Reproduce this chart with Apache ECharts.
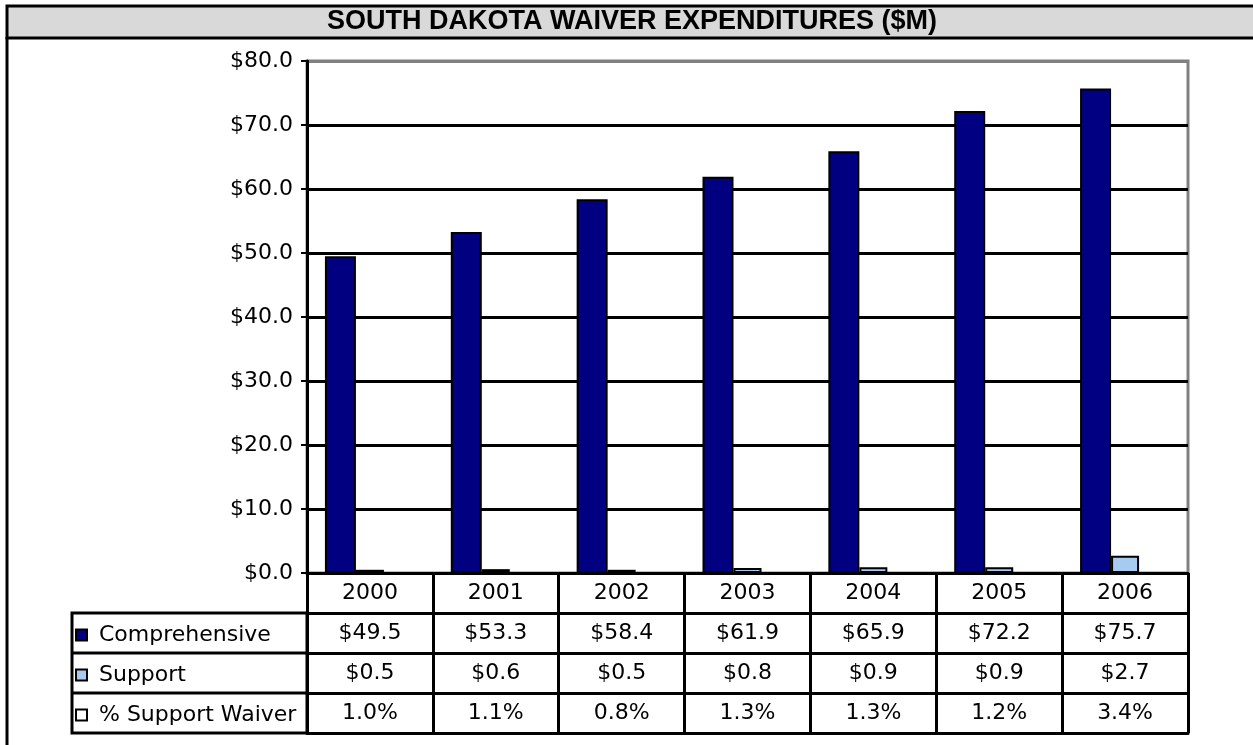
<!DOCTYPE html>
<html>
<head>
<meta charset="utf-8">
<title>South Dakota Waiver Expenditures</title>
<script src="https://cdn.jsdelivr.net/npm/echarts@6/dist/echarts.min.js"></script>
<style>
  html, body { margin: 0; padding: 0; background: #fff; }
  #chart { width: 1253px; height: 745px; }
</style>
</head>
<body>
<div id="chart"></div>
<script>
// Fiscal years and expenditures ($ millions)
const years = ['2000', '2001', '2002', '2003', '2004', '2005', '2006'];
const comprehensive = [49.5, 53.3, 58.4, 61.9, 65.9, 72.2, 75.7];
const support = [0.5, 0.6, 0.5, 0.8, 0.9, 0.9, 2.7];
// Support waiver share of total, in percent
const supportPct = [1.0, 1.1, 0.8, 1.3, 1.3, 1.2, 3.4];
const seriesNames = ['Comprehensive', 'Support', '% Support Waiver'];
const titleText = 'SOUTH DAKOTA WAIVER EXPENDITURES ($M)';

const FONT = 'DejaVu Sans';
const FONT_SIZE = 22;
const ROW = 40;            // height of one data-table row
const GRID = { left: 307, right: 65, top: 61, bottom: 172 };
const money = v => '$' + v.toFixed(1);
const pct = v => v.toFixed(1) + '%';

// A category axis below the plot that acts as one row of the data table:
// its line is the row's top rule, its ticks are the cell dividers.
function tableRow(labels, offset, showLabels) {
  return {
    type: 'category',
    data: labels,
    gridIndex: 0,
    position: 'bottom',
    offset: offset,
    axisLine: { show: true, lineStyle: { color: '#000', width: 3 } },
    axisTick: { show: showLabels, length: ROW, interval: 0, lineStyle: { color: '#000', width: 3 } },
    axisLabel: {
      show: showLabels, interval: 0, margin: 9,
      color: '#000', fontFamily: FONT, fontSize: FONT_SIZE
    },
    splitLine: { show: false }
  };
}

const legendBase = {
  orient: 'horizontal',
  left: 75,
  padding: 0,
  icon: 'rect',
  itemWidth: 11,
  itemHeight: 11,
  selectedMode: false,
  textStyle: { fontFamily: FONT, fontSize: FONT_SIZE, color: '#000', padding: [0, 0, 0, 7] }
};

const chart = echarts.init(document.getElementById('chart'), null, { renderer: 'canvas' });

const ySplitColors = ['#000', '#000', '#000', '#000', '#000', '#000', '#000', '#000', '#808080'];

chart.setOption({
  backgroundColor: '#fff',
  animation: false,
  grid: Object.assign({
    containLabel: false,
    outerBoundsMode: 'none',
    show: true,
    borderColor: '#808080',
    borderWidth: 3,
    backgroundColor: 'transparent'
  }, GRID),
  legend: [
    Object.assign({ data: [seriesNames[0]], top: 624 }, legendBase),
    Object.assign({ data: [seriesNames[1]], top: 664 }, legendBase),
    Object.assign({ data: [seriesNames[2]], top: 704 }, legendBase)
  ],
  xAxis: [
    tableRow(years, 0, true),
    tableRow(comprehensive.map(money), ROW, true),
    tableRow(support.map(money), ROW * 2, true),
    tableRow(supportPct.map(pct), ROW * 3, true),
    tableRow(years.map(() => ''), ROW * 4, false)
  ],
  yAxis: {
    type: 'value',
    min: 0,
    max: 80,
    interval: 10,
    axisLine: { show: true, lineStyle: { color: '#000', width: 3 } },
    axisTick: { show: true, length: 6, lineStyle: { color: '#000', width: 2 } },
    axisLabel: {
      margin: 14, color: '#000', fontFamily: FONT, fontSize: FONT_SIZE,
      formatter: v => money(v)
    },
    splitLine: { show: true, lineStyle: { color: ySplitColors, width: 3 } }
  },
  series: [
    {
      name: seriesNames[0], type: 'bar', xAxisIndex: 0,
      data: comprehensive, barWidth: 31, barGap: '0%',
      itemStyle: { color: '#000080', borderColor: '#000', borderWidth: 2 }
    },
    {
      name: seriesNames[1], type: 'bar', xAxisIndex: 0,
      data: support, barWidth: 28, barGap: '0%',
      itemStyle: { color: '#a6caf0', borderColor: '#000', borderWidth: 2 }
    },
    {
      name: seriesNames[2], type: 'bar', xAxisIndex: 0,
      data: supportPct.map(v => v / 100), barWidth: 31, barGap: '0%',
      itemStyle: { color: '#fff', borderColor: '#000', borderWidth: 2 }
    }
  ],
  graphic: [
    // title band
    {
      type: 'rect', z: 10,
      shape: { x: 7, y: 6, width: 1260, height: 32 },
      style: { fill: '#d9d9d9', stroke: '#000', lineWidth: 3 }
    },
    {
      type: 'text', z: 11, x: 632, y: 22,
      style: {
        text: titleText, fill: '#000', align: 'center', verticalAlign: 'middle',
        font: 'bold 27px "Liberation Sans", Arial, sans-serif'
      }
    },
    // left frame rule
    {
      type: 'line', z: 10,
      shape: { x1: 7, y1: 37, x2: 7, y2: 760 },
      style: { stroke: '#000', lineWidth: 3 }
    },
    // row-label column of the data table
    {
      type: 'rect', z: 10,
      shape: { x: 72, y: 613, width: 235, height: 120 },
      style: { fill: 'none', stroke: '#000', lineWidth: 3 }
    },
    {
      type: 'line', z: 10,
      shape: { x1: 72, y1: 653, x2: 307, y2: 653 },
      style: { stroke: '#000', lineWidth: 3 }
    },
    {
      type: 'line', z: 10,
      shape: { x1: 72, y1: 693, x2: 307, y2: 693 },
      style: { stroke: '#000', lineWidth: 3 }
    }
  ]
});
</script>
</body>
</html>
